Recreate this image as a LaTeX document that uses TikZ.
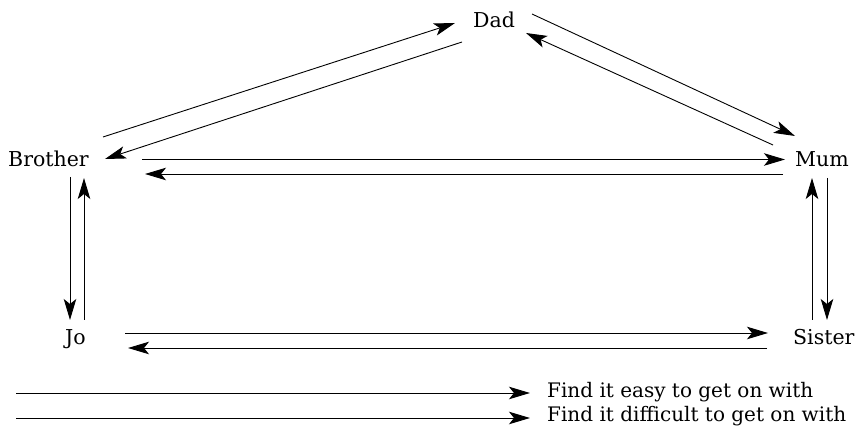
\documentclass[tikz,border=0pt]{standalone}
\usepackage{fontspec}
\setmainfont{DejaVu Serif}
\usetikzlibrary{arrows.meta}
\begin{document}
\begin{tikzpicture}[x=1pt,y=-1pt,
  lbl/.style={inner sep=0pt,anchor=base west,font=\fontsize{20.5}{24}\selectfont},
  leg/.style={inner sep=0pt,anchor=base west,font=\fontsize{20}{24}\selectfont},
  rel/.style={line width=0.9pt,-{Stealth[length=21pt,width=12.5pt,inset=5pt]}}]
\useasboundingbox (0,0) rectangle (855,435);
% people
\node[lbl] (dad) at (473,28) {Dad};
\node[lbl] (brother) at (8,167) {Brother};
\node[lbl] (mum) at (795,167) {Mum};
\node[lbl] (jo) at (65,345) {Jo};
\node[lbl] (sister) at (793,345) {Sister};
% connector end points
\coordinate (bd1) at (103,137);   \coordinate (bd2) at (455,23);
\coordinate (db1) at (462,42);    \coordinate (db2) at (105,159);
\coordinate (dm1) at (532,14);    \coordinate (dm2) at (795,136);
\coordinate (md1) at (773,145);   \coordinate (md2) at (526,33);
\coordinate (bm1) at (142,159.5); \coordinate (bm2) at (785,159.5);
\coordinate (mb1) at (783,174);   \coordinate (mb2) at (145,174);
\coordinate (bj1) at (70,177);    \coordinate (bj2) at (70,320);
\coordinate (jb1) at (84,320);    \coordinate (jb2) at (84,178);
\coordinate (ms1) at (827,178);   \coordinate (ms2) at (827,320);
\coordinate (sm1) at (812,320);   \coordinate (sm2) at (812,178);
\coordinate (js1) at (125,333);   \coordinate (js2) at (768,333);
\coordinate (sj1) at (767,348);   \coordinate (sj2) at (128,348);
\draw[rel] (bd1) -- (bd2);
\draw[rel] (db1) -- (db2);
\draw[rel] (dm1) -- (dm2);
\draw[rel] (md1) -- (md2);
\draw[rel] (bm1) -- (bm2);
\draw[rel] (mb1) -- (mb2);
\draw[rel] (bj1) -- (bj2);
\draw[rel] (jb1) -- (jb2);
\draw[rel] (ms1) -- (ms2);
\draw[rel] (sm1) -- (sm2);
\draw[rel] (js1) -- (js2);
\draw[rel] (sj1) -- (sj2);
% legend
\node[leg] (easy) at (547,398) {Find it easy to get on with};
\node[leg] (hard) at (547,422) {Find it difficult to get on with};
\coordinate (e1) at (16,393); \coordinate (e2) at (530,393);
\coordinate (h1) at (16,418); \coordinate (h2) at (530,418);
\draw[rel] (e1) -- (e2);
\draw[rel] (h1) -- (h2);
\end{tikzpicture}
\end{document}
